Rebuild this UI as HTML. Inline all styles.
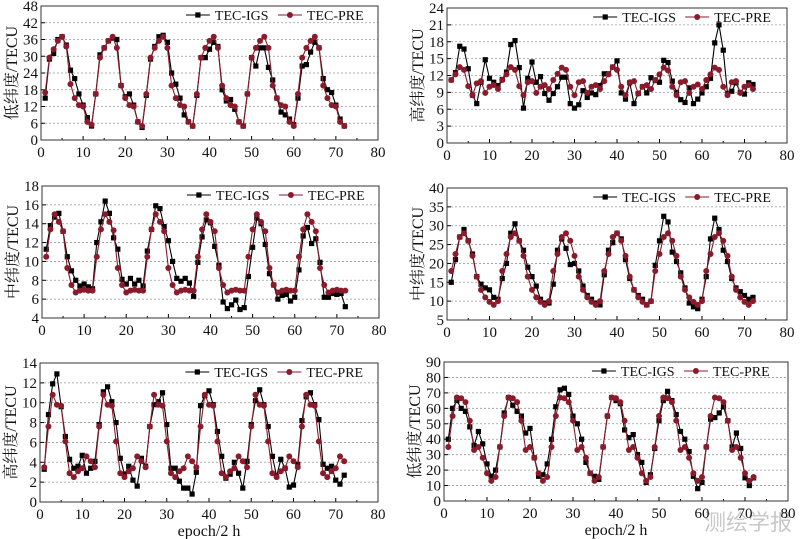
<!DOCTYPE html>
<html><head><meta charset="utf-8"><style>
body{margin:0;background:#fff;}
svg{display:block;font-family:"Liberation Serif","Noto Serif CJK SC",serif;}
</style></head><body>
<svg id="chart" width="800" height="539" viewBox="0 0 800 539" xmlns="http://www.w3.org/2000/svg">
<text x="748" y="530" font-family="'Noto Sans CJK SC',sans-serif" font-size="22" fill="#c8c8c8" text-anchor="middle">测绘学报</text>
</svg>
<script>
const epochs = Array.from({length:72},(_,i)=>i+1);
const xTicks = [0,10,20,30,40,50,60,70,80];

const p1Igs = [15,29,31,36,37,34,25,22,16.5,12.5,8,5, 16.5,30.5,33,35.5,36.5,36,19.5,15.5,16.5,12.5,6.5,4.5, 16,29,33.5,37,37.5,35,24,20,15,9,6.5,5, 16,29.5,29.5,32.5,35,33.5,18,14,14.5,11,6.5,5, 16.5,29.5,26.5,33,33,26,21.5,15,10,9,7.5,5.5, 15,26.5,27,31.5,35,33,22,18,17,12.5,7.5,5];
const p1Pre = [17,29.5,32.5,35.5,37,33.5,20,15,12.5,12,6.5,5.5, 16.5,29.5,33,35.5,37,33,19.5,15,12.5,12,6.5,5, 16.5,29.5,33,35.5,37,33,19.5,15,12.5,12,6.5,5, 16.5,29.5,33,35.5,37,33,19.5,15,12.5,12,6.5,5, 16.5,29.5,33,35.5,37,33,19.5,15,12.5,12,6.5,5, 16.5,29.5,33,35.5,37,33,19.5,15,12.5,12,6.5,5];

const p2Igs = [11.2,12.5,17.2,16.7,13.2,8.5,7,10.8,14.8,11.5,10.8,10.2, 11.3,12.6,17.5,18.2,13.4,6.2,11.5,14.4,10.8,11.8,8.8,7.6, 8.8,10,11.7,11.7,7,6.2,6.8,9.3,8.1,8.9,8.6,10.2, 12.3,12.3,13.5,14.6,8.9,7.8,10.7,7,8.8,10,8.9,11.6, 11.1,10.8,14.7,14.3,11,9,7.7,7.2,9.8,7,7.8,8.9, 10,11.5,17.8,21,16.5,8.8,9.2,10.7,9,8.7,10.7,10.4];
const p2Pre = [11.2,12.2,13.5,13,10.1,8.5,10.6,11,8.9,10,10.3,9.6, 11.2,12.2,13.5,13,10.1,8.5,10.8,11,8.9,10,10.3,9.6, 11.2,12.3,13.4,13,10,8.5,10.8,11,8.9,10,10.3,9.6, 11,12.2,13.5,13,10,8.5,10.8,11,8.8,10,10.3,9.6, 11.2,12.2,13.4,12.9,10,8.5,10.8,11,8.9,10,10.4,9.6, 11.2,12.2,13.4,13,10,8.5,10.8,11,8.9,10,10.3,9.6];

const p3Igs = [11.3,13.8,14.7,15.1,13.2,10.5,9,8,7.4,7.6,7.3,7.1, 12,14.2,16.4,15.1,12.5,11.3,8.1,7.6,8.2,7.6,8,7.4, 11.1,13.4,15.9,15.6,13.7,12.2,10,8.2,7.9,8.2,7.7,6.3, 9.9,12.6,14.4,14.1,11.6,9.6,5.7,5,5.4,5.9,4.9,5.1, 8.4,11.5,14.6,14,11.8,8.7,7.5,6,6.4,6.5,5.8,6.2, 9.1,12.7,13.6,11.9,12.4,9.9,6.2,6.2,6.6,6.5,6.6,5.2];
const p3Pre = [10.5,13.4,15,14.2,13.2,9.3,7.5,6.7,6.9,7,6.9,6.9, 10.5,13.4,15,14.2,13.3,9.3,7.5,6.7,6.9,7,6.9,6.9, 10.5,13.4,15,14.2,13.2,9.3,7.5,6.7,6.9,7,6.9,6.9, 10.5,13.4,15,14.2,13.2,9.3,7.5,6.7,6.9,7,6.9,6.9, 10.5,13.4,15,14.2,13.2,9.3,7.5,6.7,6.9,7,6.9,6.9, 10.5,13.4,15,14.2,13.2,9.3,7.5,6.7,6.9,7,6.9,6.9];

const p4Igs = [15,21,27,29,26,22.5,16.5,14.5,13.5,13,11,10.5, 16,20,28,30.5,26,23.5,19,16.5,14,10.5,9.5,9.5, 14.5,23.5,26.5,24,19.7,20,18,14,11.5,10.5,9.5,9, 17,23.5,25.5,28,26.5,21,16,13,11.5,10.5,9,10, 19.5,26,32.5,31,23,20.5,17.5,13.5,9.5,8.5,8,10.5, 16.5,26.5,32,29,23.5,20.5,16,13.5,12.5,11.5,10.5,11];
const p4Pre = [18,22.5,27,28,26,22,16.5,13,11,9.8,9,10, 18,22.5,27,28,26,22,16.5,13,11,9.8,9,10, 18,22.5,27,28,26,22,16.5,13,11,9.8,9,10, 18,22.5,27,28,26,22,16.5,13,11,9.8,9,10, 18,22.5,27,28,26,22,16.5,13,11,9.8,9,10, 18,22.5,27,28,26,22,16.5,13,11,9.8,9,10];

const p5Igs = [3.3,8.8,11.9,12.9,9.6,6.6,4.3,3.4,3.6,4.7,2.9,3.4, 4.1,7.8,11.1,11.6,10.1,8,4.4,2.8,3.6,2.2,1.6,4.4, 3.6,7.6,9.8,10.1,11,7.8,3.4,3.4,2.1,1.4,1.4,0.8, 3,9.7,10.7,11.2,9.8,7.1,4.6,2.4,2.8,4,2.9,1.4, 4.1,7.8,10.2,11.3,9.8,7.6,4.6,2.6,4.3,3.4,1.5,1.7, 3.8,8.2,10.6,11,9.8,8.3,3.8,3.4,3.6,2.2,1.8,2.7];
const p5Pre = [3.5,7.6,10.8,9.8,9.7,6.1,2.9,2.5,3.1,3.4,4.6,4.1, 3.5,7.6,10.8,9.8,9.7,6.1,2.9,2.5,3.1,3.4,4.6,4.1, 3.5,7.6,10.8,9.8,9.7,6.1,2.9,2.5,3.1,3.4,4.6,4.1, 3.5,7.6,10.8,9.8,9.7,6.1,2.9,2.5,3.1,3.4,4.6,4.1, 3.5,7.6,10.8,9.8,9.7,6.1,2.9,2.5,3.1,3.4,4.6,4.1, 3.5,7.6,10.8,9.8,9.7,6.1,2.9,2.5,3.1,3.4,4.6,4.1];

const p6Igs = [40,60,65,60,58,48,36,45,37,24,16,20, 35,57,67,62,58,55,44,47,28,16,17,24, 40,61,72,73,69,55,50,40,25,18,16,14, 35,55,67,65,63,46,41,43,30,25,12,17, 34,52,65,71,65,56,45,40,32,16,8,12, 35,53,54,57,61,52,35,44,34,15,10,15];
const p6Pre = [35,55,67,66.5,64,52,33,35,28,18,13,15.5, 35,55,67,66.5,64,52,33,35,28,18,13,15.5, 35,55,67,66.5,64,52,33,35,28,18,13,15.5, 35,55,67,66.5,64,52,33,35,28,18,13,15.5, 35,55,67,66.5,64,52,33,35,28,18,13,15.5, 35,55,67,66.5,64,52,33,35,28,18,13,15.5];

const p1YTicks=[0,6,12,18,24,30,36,42,48];
const p2YTicks=[0,3,6,9,12,15,18,21,24];
const p3YTicks=[4,6,8,10,12,14,16,18];
const p4YTicks=[5,10,15,20,25,30,35,40];
const p5YTicks=[0,2,4,6,8,10,12,14];
const p6YTicks=[0,10,20,30,40,50,60,70,80,90];

const panels=[
 {id:'low-lat-1',x0:41,x1:378,yT:6,yB:140,yTicks:p1YTicks,ylab:'低纬度/TECU',igs:p1Igs,pre:p1Pre,xlab:false},
 {id:'high-lat-1',x0:447,x1:787,yT:8,yB:143,yTicks:p2YTicks,ylab:'高纬度/TECU',igs:p2Igs,pre:p2Pre,xlab:false},
 {id:'mid-lat-1',x0:42,x1:379,yT:186,yB:318,yTicks:p3YTicks,ylab:'中纬度/TECU',igs:p3Igs,pre:p3Pre,xlab:false},
 {id:'mid-lat-2',x0:447,x1:787,yT:188,yB:320,yTicks:p4YTicks,ylab:'中纬度/TECU',igs:p4Igs,pre:p4Pre,xlab:false},
 {id:'high-lat-2',x0:40,x1:378,yT:363,yB:502,yTicks:p5YTicks,ylab:'高纬度/TECU',igs:p5Igs,pre:p5Pre,xlab:true},
 {id:'low-lat-2',x0:444,x1:788,yT:362,yB:501,yTicks:p6YTicks,ylab:'低纬度/TECU',igs:p6Igs,pre:p6Pre,xlab:true}
];
const NS='http://www.w3.org/2000/svg';
const svg=document.getElementById('chart');
function mk(tag,attrs,parent,txt){const e=document.createElementNS(NS,tag);for(const k in attrs)e.setAttribute(k,attrs[k]);if(txt!==undefined)e.textContent=txt;parent.appendChild(e);return e;}
const RED='#8b1a2b';
panels.forEach(p=>{
 const g=mk('g',{},svg);
 
 
 const ymin=p.yTicks[0],ymax=p.yTicks[p.yTicks.length-1];
 const sx=v=>p.x0+(v-0)/80*(p.x1-p.x0);
 const sy=v=>p.yB-(v-ymin)/(ymax-ymin)*(p.yB-p.yT);
 p.yTicks.forEach((t,i)=>{
  const y=sy(t);
  if(i>0&&i<p.yTicks.length-1){const gl=mk('line',{x1:p.x0,x2:p.x1,y1:y,y2:y,stroke:'#999','stroke-width':0.8,'stroke-dasharray':'2,2'},g);
   
   }
  mk('line',{x1:p.x0,x2:p.x0+4,y1:y,y2:y,stroke:'#000','stroke-width':1},g);
  const tl=mk('text',{x:p.x0-3,y:y+5,'font-size':15,'text-anchor':'end',fill:'#111'},g,String(t));
  
  
 });
 xTicks.forEach(t=>{
  const x=sx(t);
  mk('line',{x1:x,x2:x,y1:p.yB,y2:p.yB-4,stroke:'#000','stroke-width':1},g);
  if(t<80) mk('line',{x1:sx(t+5),x2:sx(t+5),y1:p.yB,y2:p.yB-2,stroke:'#000','stroke-width':1},g);
  const tl=mk('text',{x:x,y:p.yB+17,'font-size':15,'text-anchor':'middle',fill:'#111'},g,String(t));
  
  
 });
 const fr=mk('rect',{x:p.x0,y:p.yT,width:p.x1-p.x0,height:p.yB-p.yT,fill:'none',stroke:'#333','stroke-width':1},g);
 
 
 const yl=mk('text',{x:0,y:0,'font-size':16,'text-anchor':'middle',fill:'#111',transform:`translate(${p.x0-24},${(p.yT+p.yB)/2}) rotate(-90)`},g,p.ylab);
 
 
 if(p.xlab){const xl=mk('text',{x:(p.x0+p.x1)/2,y:p.yB+34,'font-size':16,'text-anchor':'middle',fill:'#111'},g,'epoch/2 h');
  
  }
 [[p.igs,'#000','sq','igs'],[p.pre,RED,'ci','pre']].forEach(([arr,col,m,nm])=>{
  const pts=arr.map((v,i)=>sx(epochs[i])+','+sy(v)).join(' ');
  const pl=mk('polyline',{points:pts,fill:'none',stroke:col,'stroke-width':1.1},g);
  
  
  arr.forEach((v,i)=>{
   const cx=sx(epochs[i]),cy=sy(v);
   const mkr = m==='sq'? mk('rect',{x:cx-2.6,y:cy-2.6,width:5.2,height:5.2,fill:col},g) : mk('circle',{cx:cx,cy:cy,r:3,fill:col},g);
   
   
  });
 });
 const lx=p.x0+(p.x1-p.x0)*0.43, ly=p.yT+9;
 const le1=mk('g',{},g);
 
 
 mk('line',{x1:lx,x2:lx+24,y1:ly,y2:ly,stroke:'#000','stroke-width':1.1},le1);
 mk('rect',{x:lx+9.4,y:ly-2.6,width:5.2,height:5.2,fill:'#000'},le1);
 mk('text',{x:lx+29,y:ly+5,'font-size':14,fill:'#111'},le1,'TEC-IGS');
 const lx2=lx+92;
 const le2=mk('g',{},g);
 
 
 mk('line',{x1:lx2,x2:lx2+24,y1:ly,y2:ly,stroke:RED,'stroke-width':1.1},le2);
 mk('circle',{cx:lx2+12,cy:ly,r:3,fill:RED},le2);
 mk('text',{x:lx2+29,y:ly+5,'font-size':14,fill:'#111'},le2,'TEC-PRE');
});
</script>
</body></html>
